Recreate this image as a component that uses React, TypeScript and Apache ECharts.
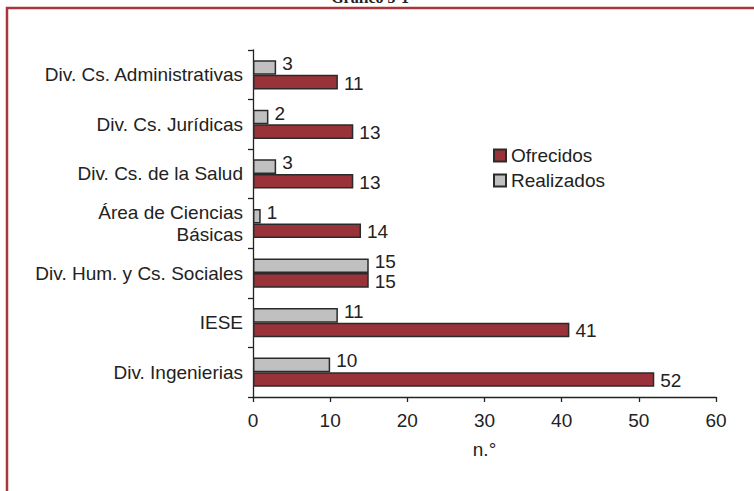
import React, { useEffect, useRef } from "react";
import * as echarts from "echarts";

const categories = [
  "Div. Ingenierias",
  "IESE",
  "Div. Hum. y Cs. Sociales",
  "Área de Ciencias\nBásicas",
  "Div. Cs. de la Salud",
  "Div. Cs. Jurídicas",
  "Div. Cs. Administrativas",
];
const ofrecidos = [52, 41, 15, 14, 13, 13, 11];
const realizados = [10, 11, 15, 1, 3, 2, 3];
const xTicks = { min: 0, max: 60, interval: 10 };

const FONT = "'Liberation Sans', Arial, sans-serif";
const FS = 19;

export default function App() {
  const ref = useRef<HTMLDivElement>(null);
  useEffect(() => {
    if (!ref.current) return;
    const chart = echarts.init(ref.current, null, { renderer: "svg" });
    chart.setOption({
      animation: false,
      backgroundColor: "#ffffff",
      textStyle: { fontFamily: FONT },
      graphic: [
        {
          type: "rect",
          shape: { x: 7, y: 8, width: 800, height: 520 },
          style: { fill: "none", stroke: "#a8343c", lineWidth: 2.5 },
          z: 0,
        },
        {
          type: "text",
          x: 370,
          y: 5,
          style: {
            text: "Gráfico 5-1",
            fontFamily: "'Liberation Serif', 'Times New Roman', serif",
            fontWeight: "bold",
            fontSize: 16,
            fill: "#222",
            textAlign: "center",
            textVerticalAlign: "bottom",
          },
        },
      ],
      legend: {
        data: ["Ofrecidos", "Realizados"],
        orient: "vertical",
        left: 488,
        top: 141,
        itemWidth: 12,
        itemHeight: 12,
        itemGap: 6,
        icon: "rect",
        textStyle: { fontSize: FS, color: "#222", fontFamily: FONT },
      },
      grid: { left: 253, right: 38, top: 50, bottom: 94, containLabel: false },
      xAxis: {
        type: "value",
        min: xTicks.min,
        max: xTicks.max,
        interval: xTicks.interval,
        name: "n.°",
        nameLocation: "middle",
        nameGap: 43,
        nameTextStyle: { fontSize: FS, color: "#222", fontFamily: FONT },
        splitLine: { show: false },
        axisLine: { show: true, lineStyle: { color: "#222", width: 1.3 } },
        axisTick: { show: true, length: 5, lineStyle: { color: "#222", width: 1.3 } },
        axisLabel: { fontSize: FS, color: "#222", margin: 14, fontFamily: FONT },
      },
      yAxis: {
        type: "category",
        data: categories,
        axisLine: { show: true, lineStyle: { color: "#222", width: 1.3 } },
        axisTick: { show: true, length: 5, alignWithLabel: false, lineStyle: { color: "#222", width: 1.3 } },
        axisLabel: { fontSize: FS, color: "#222", margin: 10, lineHeight: 22, fontFamily: FONT },
      },
      series: [
        {
          name: "Realizados",
          type: "bar",
          data: realizados,
          barGap: "0%",
          barCategoryGap: "41%",
          itemStyle: { color: "#c0c0c0", borderColor: "#2a2a2a", borderWidth: 1.5 },
          label: {
            show: true,
            position: "right",
            distance: 6,
            offset: [0, -4],
            fontSize: FS,
            color: "#222",
            fontFamily: FONT,
          },
        },
        {
          name: "Ofrecidos",
          type: "bar",
          data: ofrecidos,
          barGap: "0%",
          barCategoryGap: "41%",
          itemStyle: { color: "#993339", borderColor: "#2a2a2a", borderWidth: 1.5 },
          label: {
            show: true,
            position: "right",
            distance: 6,
            offset: [0, 1],
            fontSize: FS,
            color: "#222",
            fontFamily: FONT,
          },
        },
      ],
    });
    return () => chart.dispose();
  }, []);
  return (
    <div
      ref={ref}
      style={{ position: "fixed", left: 0, top: 0, width: 754, height: 491 }}
    />
  );
}
